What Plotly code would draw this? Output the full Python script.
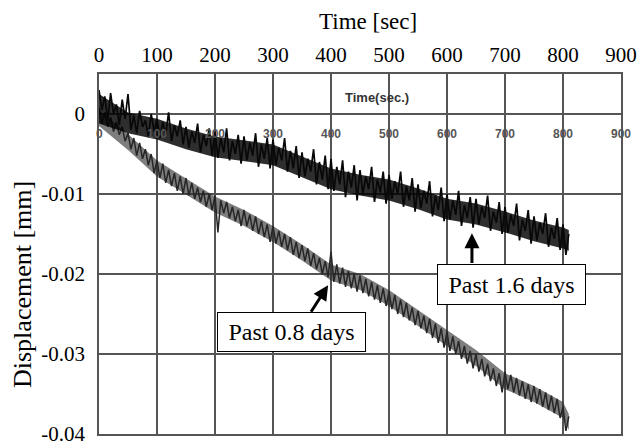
import plotly.graph_objects as go

# ---------------- data ----------------
time_upper = [i * 5 for i in range(163)]  # 0 .. 810 s, sampled every 5 s
time_lower = [i * 5 for i in range(163)]

# "Past 1.6 days" trace [mm]
disp_upper = [
    0.0030, 0.0005, 0.0022, -0.0008, 0.0026, 0.0000, 0.0012, -0.0014, 0.0018, -0.0006,
    0.0025, -0.0020, -0.0002, -0.0024, 0.0004, -0.0016, -0.0008, -0.0028, 0.0000, -0.0022,
    -0.0006, -0.0030, -0.0010, -0.0026, 0.0002, -0.0034, -0.0014, -0.0028, -0.0008, -0.0038,
    -0.0016, -0.0042, -0.0022, -0.0036, -0.0012, -0.0048, -0.0026, -0.0040, -0.0018, -0.0052,
    -0.0022, -0.0055, -0.0030, -0.0048, -0.0018, -0.0058, -0.0034, -0.0050, -0.0026, -0.0062,
    -0.0028, -0.0058, -0.0036, -0.0052, -0.0024, -0.0066, -0.0038, -0.0056, -0.0030, -0.0068,
    -0.0032, -0.0064, -0.0042, -0.0058, -0.0030, -0.0072, -0.0046, -0.0068, -0.0040, -0.0080,
    -0.0048, -0.0078, -0.0056, -0.0072, -0.0044, -0.0088, -0.0060, -0.0082, -0.0052, -0.0094,
    -0.0056, -0.0096, -0.0066, -0.0088, -0.0058, -0.0104, -0.0072, -0.0092, -0.0064, -0.0108,
    -0.0070, -0.0100, -0.0078, -0.0094, -0.0066, -0.0110, -0.0082, -0.0098, -0.0072, -0.0112,
    -0.0076, -0.0106, -0.0084, -0.0100, -0.0072, -0.0116, -0.0090, -0.0108, -0.0080, -0.0122,
    -0.0088, -0.0118, -0.0096, -0.0112, -0.0084, -0.0128, -0.0102, -0.0120, -0.0092, -0.0134,
    -0.0100, -0.0132, -0.0108, -0.0126, -0.0096, -0.0140, -0.0114, -0.0130, -0.0104, -0.0142,
    -0.0106, -0.0138, -0.0116, -0.0130, -0.0102, -0.0146, -0.0122, -0.0136, -0.0110, -0.0150,
    -0.0116, -0.0148, -0.0126, -0.0140, -0.0112, -0.0158, -0.0132, -0.0146, -0.0120, -0.0162,
    -0.0128, -0.0158, -0.0136, -0.0150, -0.0124, -0.0166, -0.0142, -0.0156, -0.0130, -0.0170,
    -0.0138, -0.0176, -0.0150,
]

# "Past 0.8 days" trace [mm]
disp_lower = [
    0.0008, -0.0012, 0.0002, -0.0016, -0.0004, -0.0022, -0.0010, -0.0026, -0.0016, -0.0034,
    -0.0024, -0.0044, -0.0030, -0.0052, -0.0036, -0.0056, -0.0044, -0.0064, -0.0050, -0.0074,
    -0.0058, -0.0080, -0.0062, -0.0086, -0.0070, -0.0090, -0.0074, -0.0096, -0.0078, -0.0100,
    -0.0080, -0.0102, -0.0086, -0.0106, -0.0092, -0.0110, -0.0096, -0.0116, -0.0100, -0.0120,
    -0.0102, -0.0148, -0.0108, -0.0124, -0.0110, -0.0130, -0.0116, -0.0134, -0.0120, -0.0140,
    -0.0120, -0.0140, -0.0126, -0.0146, -0.0128, -0.0150, -0.0134, -0.0154, -0.0138, -0.0160,
    -0.0140, -0.0162, -0.0146, -0.0166, -0.0150, -0.0170, -0.0154, -0.0176, -0.0160, -0.0180,
    -0.0164, -0.0184, -0.0168, -0.0190, -0.0174, -0.0194, -0.0180, -0.0200, -0.0184, -0.0204,
    -0.0172, -0.0210, -0.0188, -0.0212, -0.0192, -0.0216, -0.0196, -0.0218, -0.0200, -0.0222,
    -0.0202, -0.0224, -0.0206, -0.0228, -0.0210, -0.0232, -0.0214, -0.0236, -0.0218, -0.0240,
    -0.0222, -0.0244, -0.0226, -0.0250, -0.0232, -0.0254, -0.0236, -0.0258, -0.0242, -0.0264,
    -0.0246, -0.0268, -0.0252, -0.0274, -0.0256, -0.0280, -0.0262, -0.0286, -0.0268, -0.0292,
    -0.0272, -0.0296, -0.0278, -0.0300, -0.0284, -0.0306, -0.0290, -0.0312, -0.0296, -0.0318,
    -0.0300, -0.0322, -0.0306, -0.0328, -0.0312, -0.0334, -0.0318, -0.0340, -0.0324, -0.0348,
    -0.0322, -0.0344, -0.0326, -0.0348, -0.0330, -0.0352, -0.0334, -0.0356, -0.0338, -0.0360,
    -0.0340, -0.0362, -0.0344, -0.0366, -0.0348, -0.0370, -0.0352, -0.0374, -0.0356, -0.0380,
    -0.0366, -0.0396, -0.0378,
]

# dense core of each noisy band, read every 50 s [mm]
band_time = [0, 50, 100, 150, 200, 250, 300, 350, 400, 450, 500, 550, 600, 650, 700, 750, 800, 810]
upper_core_hi = [0.0025, 0.0002, -0.0006, -0.0018, -0.0028, -0.0033, -0.0038, -0.0053, -0.0068,
                 -0.0076, -0.0082, -0.0093, -0.0106, -0.0112, -0.0122, -0.0133, -0.0142, -0.0145]
upper_core_lo = [-0.0012, -0.0024, -0.0032, -0.0044, -0.0054, -0.0059, -0.0064, -0.0079, -0.0094,
                 -0.0102, -0.0108, -0.0119, -0.0132, -0.0138, -0.0148, -0.0159, -0.0168, -0.0171]
lower_core_hi = [0.0005, -0.0025, -0.0058, -0.0080, -0.0103, -0.0120, -0.0140, -0.0163, -0.0188,
                 -0.0200, -0.0220, -0.0245, -0.0270, -0.0295, -0.0324, -0.0340, -0.0360, -0.0375]
lower_core_lo = [-0.0015, -0.0045, -0.0078, -0.0100, -0.0123, -0.0140, -0.0160, -0.0183, -0.0208,
                 -0.0220, -0.0240, -0.0265, -0.0290, -0.0315, -0.0344, -0.0360, -0.0380, -0.0395]

x_ticks = [0, 100, 200, 300, 400, 500, 600, 700, 800, 900]
x_ticktext = ["0", "100", "200", "300", "400", "500", "600", "700", "800", "900"]
y_ticks = [0, -0.01, -0.02, -0.03, -0.04]
y_ticktext = ["0", "-0.01", "-0.02", "-0.03", "-0.04"]

# scanned inner labels of the original instrument plot
scan_ticks = [0, 100, 200, 300, 400, 500, 600, 700, 800, 900]
scan_ticktext = ["0", "100", "200", "300", "400", "500", "600", "700", "800", "900"]

label_upper = "Past 1.6 days"
label_lower = "Past 0.8 days"

# ---------------- figure ----------------
SERIF = "Liberation Serif, Times New Roman, serif"
NARROW = "Liberation Sans Narrow, Arial Narrow, Arial"
GRID = "#555555"

# plot area in page pixels
PX0, PX1, PY0, PY1 = 99, 621, 74, 434
W, H = 639, 443


def px(xp):
    return (xp - PX0) / (PX1 - PX0)


def py(yp):
    return (PY1 - yp) / (PY1 - PY0)


fig = go.Figure()
# lower band core + line
fig.add_trace(go.Scatter(x=band_time, y=lower_core_lo, mode="lines", line=dict(width=0),
                         showlegend=False, hoverinfo="skip"))
fig.add_trace(go.Scatter(x=band_time, y=lower_core_hi, mode="lines", line=dict(width=0),
                         fill="tonexty", fillcolor="rgba(40,40,40,0.6)", showlegend=False,
                         hoverinfo="skip"))
fig.add_trace(go.Scatter(x=time_lower, y=disp_lower, mode="lines",
                         line=dict(color="#262626", width=1.5), showlegend=False))
# upper band core + line
fig.add_trace(go.Scatter(x=band_time, y=upper_core_lo, mode="lines", line=dict(width=0),
                         showlegend=False, hoverinfo="skip"))
fig.add_trace(go.Scatter(x=band_time, y=upper_core_hi, mode="lines", line=dict(width=0),
                         fill="tonexty", fillcolor="rgba(0,0,0,0.82)", showlegend=False,
                         hoverinfo="skip"))
fig.add_trace(go.Scatter(x=time_upper, y=disp_upper, mode="lines",
                         line=dict(color="#080808", width=1.7), showlegend=False))

annotations = []
for v, t in zip(scan_ticks, scan_ticktext):
    annotations.append(dict(x=v, y=-0.0025, xref="x", yref="y", text="<b>" + t + "</b>",
                            showarrow=False, font=dict(family=NARROW, size=12, color="#555")))
annotations.append(dict(x=479, y=0.0021, xref="x", yref="y", text="<b>Time(sec.)</b>",
                        showarrow=False, font=dict(family=NARROW, size=13, color="#333")))

# arrows
annotations.append(dict(x=643, y=-0.0149, ax=643, ay=-0.0188, xref="x", yref="y",
                        axref="x", ayref="y", text="", showarrow=True, arrowhead=2,
                        arrowsize=1, arrowwidth=3, arrowcolor="black"))
annotations.append(dict(x=395, y=-0.0214, ax=364, ay=-0.0249, xref="x", yref="y",
                        axref="x", ayref="y", text="", showarrow=True, arrowhead=2,
                        arrowsize=1, arrowwidth=3, arrowcolor="black"))
# boxes
annotations.append(dict(x=712, y=-0.02125, xref="x", yref="y", text=label_upper, showarrow=False,
                        font=dict(family=SERIF, size=24, color="black"), bgcolor="white",
                        bordercolor="black", borderwidth=1, width=145, height=37,
                        xanchor="center", yanchor="middle"))
annotations.append(dict(x=332, y=-0.0273, xref="x", yref="y", text=label_lower, showarrow=False,
                        font=dict(family=SERIF, size=24, color="black"), bgcolor="white",
                        bordercolor="black", borderwidth=1, width=145, height=36,
                        xanchor="center", yanchor="middle"))
# axis titles
annotations.append(dict(x=px(368), y=py(21), xref="paper", yref="paper",
                        text="Time [sec]", showarrow=False, xanchor="center", yanchor="middle",
                        font=dict(family=SERIF, size=23, color="black")))
annotations.append(dict(x=px(22), y=py(285), xref="paper", yref="paper",
                        text="Displacement [mm]", showarrow=False, textangle=-90,
                        xanchor="center", yanchor="middle",
                        font=dict(family=SERIF, size=26, color="black")))

fig.update_layout(
    width=W, height=H,
    margin=dict(l=PX0, r=W - PX1, t=PY0, b=H - PY1),
    paper_bgcolor="white", plot_bgcolor="white",
    showlegend=False,
    annotations=annotations,
    xaxis=dict(range=[0, 900], side="top", tickmode="array", tickvals=x_ticks, ticktext=x_ticktext,
               tickfont=dict(family=SERIF, size=21, color="black"), ticks="", ticklabelstandoff=2,
               automargin=False,
               showgrid=True, gridcolor=GRID, gridwidth=1.6, zeroline=False,
               showline=True, mirror=True, linecolor=GRID, linewidth=1.6),
    yaxis=dict(range=[-0.04, 0.005], tickmode="array", tickvals=y_ticks, ticktext=y_ticktext,
               tickfont=dict(family=SERIF, size=21, color="black"), ticks="", ticklabelstandoff=8,
               ticklabeloverflow="allow", automargin=False,
               showgrid=True, gridcolor=GRID, gridwidth=1.6, zeroline=False,
               showline=True, mirror=True, linecolor=GRID, linewidth=1.6),
)

# remove the default 8px page margin so the figure sits at the window's origin
fig.write_html("out.html", config={"displayModeBar": False},
               post_script="document.body.style.margin='0px';")
